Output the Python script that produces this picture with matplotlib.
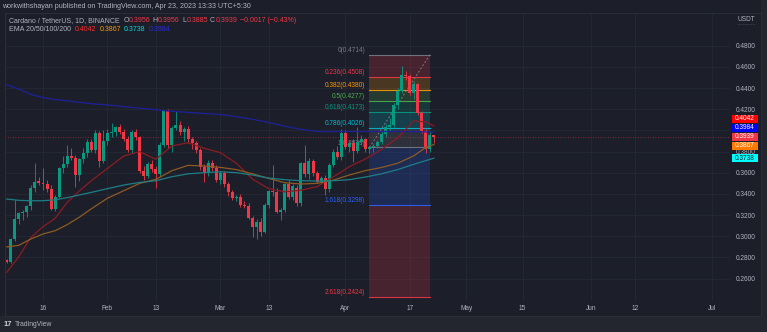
import matplotlib
matplotlib.use("Agg")
import matplotlib.pyplot as plt
import matplotlib.dates as mdates
import matplotlib.transforms as mtransforms
from matplotlib.patches import Rectangle
import numpy as np
import pandas as pd

plt.rcParams['font.family'] = ['Liberation Sans', 'DejaVu Sans']

# ---------------- data ----------------
start_date = "2023-01-07"
opens = [.2776, .2762, .2971, .3160, .3217, .3226, .3286, .3453, .3522, .3500, .3494, .3450, .3255, .3374, .3642, .3683, .3758, .3743, .3579, .3727, .3790, .3894, .3815, .3972, .3714,
         .3900, .3972, .3982, .4029, .3988, .3916, .3815, .3988, .3935, .3620, .3569, .3680, .3632, .3585, .3862, .4186, .3862, .4026, .4051, .3988, .4010, .3916, .3878, .3815, .3658, .3610, .3689, .3642,
         .3532, .3595, .3494, .3421, .3358, .3368, .3295, .3290, .3170, .3091, .3138, .3044, .3295, .3428, .3421, .3233, .3248, .3491, .3368, .3453, .3311, .3689, .3588, .3711, .3595, .3516, .3547, .3443, .3673, .3799, .3752,
         .3979, .3847, .3878, .3809, .3894, .3916, .3821, .3840, .3853, .3894, .3966, .4035, .4051, .4240, .4375, .4523, .4510, .4350, .4440, .4161, .3998, .3821, .3956]
highs = [.2790, .2985, .3340, .3230, .3250, .3300, .3480, .3689, .3560, .3642, .3530, .3480, .3390, .3650, .3760, .3862, .3831, .3770, .3740, .3830, .3920, .3920, .4004, .3990, .4004,
         .4010, .4067, .4040, .4060, .4010, .3950, .4000, .4010, .3950, .3660, .3700, .3720, .3660, .3890, .4190, .4200, .4040, .4186, .4090, .4030, .4040, .3940, .3900, .3830, .3680, .3720, .3720, .3670,
         .3620, .3620, .3510, .3440, .3390, .3400, .3330, .3310, .3190, .3160, .3170, .3310, .3440, .3673, .3460, .3270, .3500, .3530, .3490, .3480, .3700, .3862, .3740, .3730, .3620, .3570, .3580, .3690, .3820, .3850, .4010,
         .4000, .3900, .3920, .4035, .3960, .3930, .3850, .3870, .3910, .3990, .4060, .4114, .4260, .4400, .4608, .4560, .4530, .4470, .4450, .4180, .4010, .3990, .3956]
lows = [.2752, .2751, .2960, .3120, .3150, .3180, .3250, .3420, .3480, .3437, .3420, .3250, .3240, .3360, .3600, .3650, .3720, .3469, .3520, .3690, .3750, .3800, .3790, .3651, .3690,
        .3860, .3940, .3950, .3970, .3900, .3800, .3790, .3910, .3600, .3530, .3550, .3610, .3453, .3560, .3840, .3830, .3800, .4000, .3960, .3900, .3880, .3820, .3790, .3630, .3516, .3570, .3620, .3510,
        .3490, .3470, .3380, .3340, .3330, .3280, .3270, .3160, .2997, .2971, .3000, .3030, .3270, .3380, .3220, .3154, .3230, .3350, .3340, .3290, .3290, .3560, .3540, .3570, .3500, .3490, .3390, .3420, .3650, .3730, .3720,
        .3820, .3800, .3705, .3790, .3860, .3800, .3790, .3800, .3830, .3870, .3940, .3990, .4030, .4200, .4350, .4480, .4330, .4300, .4150, .3980, .3784, .3800, .3885]
closes = [.2762, .2971, .3160, .3217, .3226, .3286, .3453, .3516, .3503, .3494, .3450, .3255, .3374, .3642, .3683, .3758, .3743, .3579, .3727, .3790, .3894, .3815, .3972, .3714, .3900,
          .3972, .3982, .4029, .3988, .3916, .3815, .3988, .3935, .3620, .3569, .3680, .3632, .3585, .3862, .4186, .3862, .4026, .4051, .3988, .4010, .3916, .3878, .3815, .3658, .3610, .3689, .3642, .3532,
          .3595, .3494, .3421, .3358, .3368, .3295, .3290, .3170, .3091, .3138, .3044, .3295, .3428, .3421, .3233, .3248, .3491, .3368, .3475, .3311, .3689, .3588, .3711, .3595, .3516, .3547, .3443, .3673, .3799, .3752, .3979,
          .3847, .3878, .3809, .3894, .3916, .3821, .3840, .3853, .3894, .3966, .4035, .4051, .4240, .4375, .4523, .4510, .4350, .4440, .4161, .3998, .3821, .3956, .3939]

ema_dates = ["2023-01-07", "2023-01-10", "2023-01-13", "2023-01-16", "2023-01-19", "2023-01-22", "2023-01-25", "2023-01-28",
             "2023-02-01", "2023-02-05", "2023-02-09", "2023-02-13", "2023-02-17", "2023-02-21", "2023-02-25", "2023-03-01",
             "2023-03-05", "2023-03-09", "2023-03-13", "2023-03-17", "2023-03-21", "2023-03-25", "2023-03-29", "2023-04-02",
             "2023-04-06", "2023-04-10", "2023-04-14", "2023-04-18", "2023-04-21", "2023-04-23"]
ema20 = [.2660, .2808, .2990, .3091, .3170, .3320, .3428, .3525, .3642, .3758, .3800, .3727, .3853, .3884, .3831, .3790,
         .3690, .3540, .3450, .3420, .3435, .3469, .3560, .3658, .3730, .3820, .3930, .4090, .4080, .4042]
ema50 = [.2900, .2915, .2975, .3022, .3053, .3110, .3180, .3260, .3360, .3430, .3500, .3538, .3620, .3670, .3664, .3651,
         .3630, .3590, .3547, .3506, .3494, .3500, .3530, .3579, .3620, .3650, .3690, .3760, .3840, .3867]
ema100 = [.3352, .3340, .3336, .3336, .3345, .3365, .3390, .3415, .3450, .3484, .3509, .3525, .3563, .3590, .3601, .3610,
          .3601, .3579, .3550, .3535, .3525, .3522, .3525, .3535, .3560, .3590, .3630, .3680, .3715, .3738]
ema200 = [.4430, .4390, .4340, .4310, .4290, .4280, .4265, .4252, .4240, .4225, .4210, .4195, .4180, .4170, .4160, .4150,
          .4130, .4105, .4075, .4040, .4010, .3990, .3990, .3990, .3990, .3990, .3990, .3988, .3986, .3984]

fib_start = "2023-04-07"
fib_end = "2023-04-22"
fib_ratios = [0, 0.236, 0.382, 0.5, 0.618, 0.786, 1, 1.618, 2.618]
fib_prices = [0.4714, 0.4508, 0.4380, 0.4277, 0.4173, 0.4026, 0.3839, 0.3298, 0.2424]

price_ticks = [0.26, 0.28, 0.30, 0.32, 0.34, 0.36, 0.38, 0.40, 0.42, 0.44, 0.46, 0.48]
price_labels = ["0.2600", "0.2800", "0.3000", "0.3200", "0.3400", "0.3600", "0.3800", "",
                "0.4200", "0.4400", "0.4600", "0.4800"]
time_ticks = ["2023-01-16", "2023-02-01", "2023-02-13", "2023-03-01", "2023-03-13", "2023-04-01",
              "2023-04-17", "2023-05-01", "2023-05-15", "2023-06-01", "2023-06-12", "2023-07-01"]
time_labels = ["16", "Feb", "13", "Mar", "13", "Apr", "17", "May", "15", "Jun", "12", "Jul"]

# ---------------- styling ----------------
BG = '#1c1f2a'
BAND = '#23262f'
TXT = '#b2b5be'
GRID = '#252935'
UP = '#089981'
DN = '#f23645'
fib_colors = ['#787b86', '#f23645', '#ff9800', '#4caf50', '#089981', '#00bcd4', '#787b86', '#2962ff', '#f23645']
ema_line_colors = ['#8e1b22', '#8f5a22', '#1e7e86', '#1f1f9a']
ema_tag_colors = ['#ff0000', '#ff7a00', '#00ffff', '#0000ff']
FS = 4.7

W, H = 767, 332
fig = plt.figure(figsize=(W / 100, H / 100), dpi=100)
fig.patch.set_facecolor(BG)


def fx(px):
    return px / W


def fy(py):
    return 1 - py / H


# lighter outer band (bottom and right strip)
fig.add_artist(Rectangle((0, 0), 1, fy(316), transform=fig.transFigure, facecolor=BAND,
                         edgecolor='none', zorder=0))
fig.add_artist(Rectangle((fx(761), 0), 1 - fx(761), 1, transform=fig.transFigure, facecolor=BAND,
                         edgecolor='none', zorder=0))

PX_PER_DAY = 4.03
ax = fig.add_axes([fx(5), fy(301), fx(730) - fx(5), fy(13) - fy(301)])
ax.set_facecolor(BG)
d16 = mdates.date2num(pd.Timestamp("2023-01-16"))
ax.set_xlim(d16 - (43 - 5) / PX_PER_DAY, d16 + (730 - 43) / PX_PER_DAY)
ax.set_ylim(0.48 - (301 - 45.7) / 1059, 0.48 + (45.7 - 13) / 1059)
for s in ax.spines.values():
    s.set_visible(False)

ax.set_xticks([mdates.date2num(pd.Timestamp(d)) for d in time_ticks])
ax.set_xticklabels(time_labels)
ax.yaxis.tick_right()
ax.set_yticks(price_ticks)
ax.set_yticklabels(price_labels)
ax.tick_params(axis='x', length=0, pad=3.2, labelsize=FS, colors=TXT)
ax.tick_params(axis='y', length=0, pad=4.5, labelsize=FS, colors=TXT)
ax.grid(True, color=GRID, lw=0.6)
ax.set_axisbelow(True)

dates = pd.date_range(start_date, periods=len(opens), freq='D')
xd = mdates.date2num(dates)
o = np.array(opens); h = np.array(highs); l = np.array(lows); c = np.array(closes)
col = np.where(c >= o, UP, DN)

# fib retracement
fx0 = mdates.date2num(pd.Timestamp(fib_start))
fx1 = mdates.date2num(pd.Timestamp(fib_end))
for i in range(len(fib_prices) - 1):
    ax.fill_between([fx0, fx1], fib_prices[i + 1], fib_prices[i], color=fib_colors[i + 1],
                    alpha=0.2, lw=0, zorder=1)
for r, p, cc in zip(fib_ratios, fib_prices, fib_colors):
    ax.plot([fx0, fx1], [p, p], color=cc, lw=0.8, alpha=0.9, zorder=1.2)
    ax.annotate(f"{r:g}({p:.4f})", (fx0, p), xytext=(-3, 0.6), textcoords='offset points',
                ha='right', va='bottom', fontsize=FS, color=cc, zorder=1.1)
ax.plot([fx0, fx1], [fib_prices[6], fib_prices[0]], color='#787b86', lw=0.7,
        ls=(0, (2, 2)), zorder=1.3)

# current price line
ax.axhline(closes[-1], color=DN, lw=0.6, ls=(0, (1, 2)), alpha=0.6, zorder=1.5)

# candles
ax.vlines(xd, l, h, colors=col, lw=0.6, zorder=3)
body_lo = np.minimum(o, c)
body_h = np.maximum(np.abs(c - o), 0.0008)
ax.bar(xd, body_h, bottom=body_lo, width=0.74, color=col, lw=0, zorder=3.1)

# EMAs
exd = mdates.date2num(pd.to_datetime(ema_dates))
for vals, cc in zip([ema20, ema50, ema100, ema200], ema_line_colors):
    ax.plot(exd, vals, color=cc, lw=0.9, zorder=4)

# price tags on right axis
blend = mtransforms.blended_transform_factory(ax.transAxes, ax.transData)
GAP = 9 / 1059
tags = [(ema20[-1], ema_tag_colors[0], 'white'), (ema200[-1], ema_tag_colors[3], 'white'),
        (closes[-1], DN, 'white'), (ema50[-1], ema_tag_colors[1], 'white'),
        (ema100[-1], ema_tag_colors[2], '#131722')]
above = sorted([t for t in tags if t[0] > closes[-1]], key=lambda t: t[0])
below = sorted([t for t in tags if t[0] < closes[-1]], key=lambda t: -t[0])
placed = [(closes[-1], DN, 'white', closes[-1])]
prev = closes[-1]
for v, cc, tc in above:
    pos = max(v, prev + GAP); placed.append((v, cc, tc, pos)); prev = pos
prev = closes[-1]
for v, cc, tc in below:
    pos = min(v, prev - GAP); placed.append((v, cc, tc, pos)); prev = pos
x0a = (731.5 - 5) / 725
x1a = (758 - 5) / 725
th = 8.6 / 1059
for v, cc, tc, pos in placed:
    ax.add_patch(Rectangle((x0a, pos - th / 2), x1a - x0a, th, transform=blend, facecolor=cc,
                           edgecolor='none', clip_on=False, zorder=6))
    ax.text((x0a + x1a) / 2, pos, f"{v:.4f}", transform=blend, ha='center', va='center',
            fontsize=FS, color=tc, clip_on=False, zorder=7)

# frame
fig.add_artist(Rectangle((fx(4.5), fy(316)), fx(761) - fx(4.5), fy(13) - fy(316),
                         transform=fig.transFigure, fill=False, ec='#2a2e39', lw=0.8))

# texts
fig.text(fx(2), fy(6.5), "workwithshayan published on TradingView.com, Apr 23, 2023 13:33 UTC+5:30",
         color=TXT, fontsize=5.1, va='center', ha='left')
fig.text(fx(738), fy(19.5), "USDT", color=TXT, fontsize=FS, va='center', ha='left')
fig.add_artist(plt.Line2D([fx(737), fx(755)], [fy(24), fy(24)], color='#50535e', lw=0.5,
                          ls=(0, (1, 1))))

fig.canvas.draw()
renderer = fig.canvas.get_renderer()


def seg_text(x_px, y_px, segs, size):
    x = x_px
    for s, cc, gap in segs:
        t = fig.text(fx(x), fy(y_px), s, color=cc, fontsize=size, va='center', ha='left')
        bb = t.get_window_extent(renderer=renderer)
        x += bb.width + gap


chg = closes[-1] - closes[-2]
pct = chg / closes[-2] * 100
seg_text(9, 20.5, [("Cardano / TetherUS, 1D, BINANCE", TXT, 3.5),
                   ("O", TXT, 0.3), (f"{opens[-1]:.4f}", DN, 2.2),
                   ("H", TXT, 0.3), (f"{highs[-1]:.4f}", DN, 2.2),
                   ("L", TXT, 0.3), (f"{lows[-1]:.4f}", DN, 2.2),
                   ("C", TXT, 0.3), (f"{closes[-1]:.4f}", DN, 2.5),
                   (f"\u2212{abs(chg):.4f} (\u2212{abs(pct):.2f}%)", DN, 0)], 5.0)
seg_text(9, 29.5, [("EMA 20/50/100/200", TXT, 4),
                   (f"{ema20[-1]:.4f}", '#ff2a2a', 3), (f"{ema50[-1]:.4f}", '#ff9800', 3),
                   (f"{ema100[-1]:.4f}", '#00d8d8', 3), (f"{ema200[-1]:.4f}", '#2b2bd6', 0)], 5.0)

fig.text(fx(4), fy(324.5), "17", color='#d1d4dc', fontsize=5.4, fontweight='bold', va='center', ha='left')
fig.text(fx(15), fy(324.5), "TradingView", color=TXT, fontsize=4.9, va='center', ha='left')

fig.savefig("out.png", dpi=100, facecolor=BG)
